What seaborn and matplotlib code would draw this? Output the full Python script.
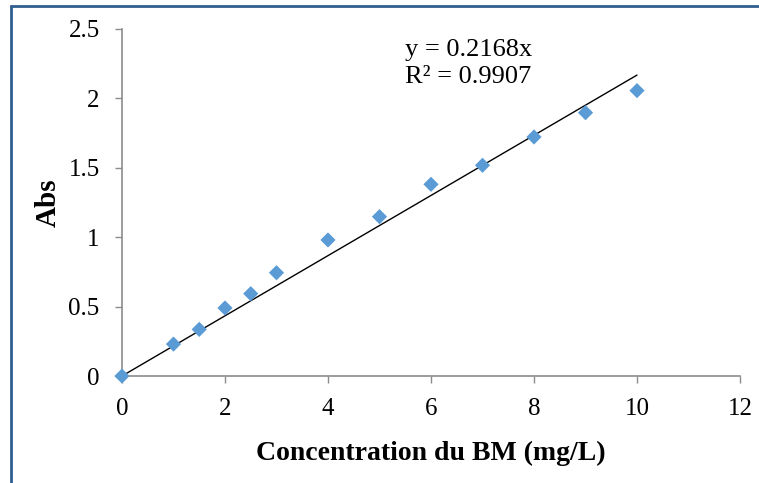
import matplotlib
matplotlib.use("Agg")
import matplotlib.pyplot as plt
import seaborn as sns
import pandas as pd
from matplotlib.patches import Rectangle

conc = [0, 1, 1.5, 2, 2.5, 3, 4, 5, 6, 7, 8, 9, 10]
absorb = [0.0, 0.23, 0.336, 0.49, 0.593, 0.744, 0.98, 1.148, 1.381, 1.518, 1.722, 1.897, 2.056]
slope = 0.2168
r2 = 0.9907
fit_x = [0, 10]
x_ticks = [0, 2, 4, 6, 8, 10, 12]
y_ticks = [0, 0.5, 1, 1.5, 2, 2.5]
y_tick_labels = ["0", "0.5", "1", "1.5", "2", "2.5"]

sns.set_theme(style="white")
plt.rcParams['font.family'] = ['Liberation Serif', 'DejaVu Serif']
plt.rcParams['text.color'] = 'black'
plt.rcParams['axes.labelcolor'] = 'black'

fig = plt.figure(figsize=(7.59, 4.83), dpi=100)
ax = fig.add_axes([0.1607, 0.2215, 0.9750 - 0.1607, 0.94 - 0.2215])

df = pd.DataFrame({"x": conc, "y": absorb})
fit = pd.DataFrame({"x": fit_x, "y": [slope * v for v in fit_x]})
sns.lineplot(data=fit, x="x", y="y", ax=ax, color="black", linewidth=1.0, zorder=2)
sns.scatterplot(data=df, x="x", y="y", ax=ax, marker="D", s=60, color="#5B9BD5",
                edgecolor="none", zorder=3, clip_on=False)

ax.set_xlim(0, 12)
ax.set_ylim(0, 2.5)
ax.set_xticks(x_ticks)
ax.set_xticklabels([str(t) for t in x_ticks])
ax.set_yticks(y_ticks)
ax.set_yticklabels(y_tick_labels)
for s in ["top", "right"]:
    ax.spines[s].set_visible(False)
for s in ["left", "bottom"]:
    ax.spines[s].set_color("#8C8C8C")
    ax.spines[s].set_linewidth(1.2)
ax.tick_params(axis="both", which="major", direction="out", length=5, width=1.0,
               color="#8C8C8C", labelsize=18, labelcolor="black",
               bottom=True, left=True)
ax.tick_params(axis="x", pad=11)
ax.tick_params(axis="y", pad=11)

ax.set_xlabel("Concentration du BM (mg/L)", fontsize=20, fontweight="bold",
              labelpad=15, color="black")
ax.set_ylabel("Abs", fontsize=21, fontweight="bold", labelpad=5, color="black")

ax.text(0.458, 0.97, f"y = {slope}x\nR² = {r2}", transform=ax.transAxes,
        fontsize=19, va="top", ha="left", linespacing=1.3, color="black")

fig.patches.append(Rectangle((11 / 759, -0.05), 1.1, 1 - 6 / 483 + 0.05,
                             transform=fig.transFigure, fill=False,
                             edgecolor="#2F5F8F", linewidth=2.0))

fig.savefig("out.png", dpi=100)
